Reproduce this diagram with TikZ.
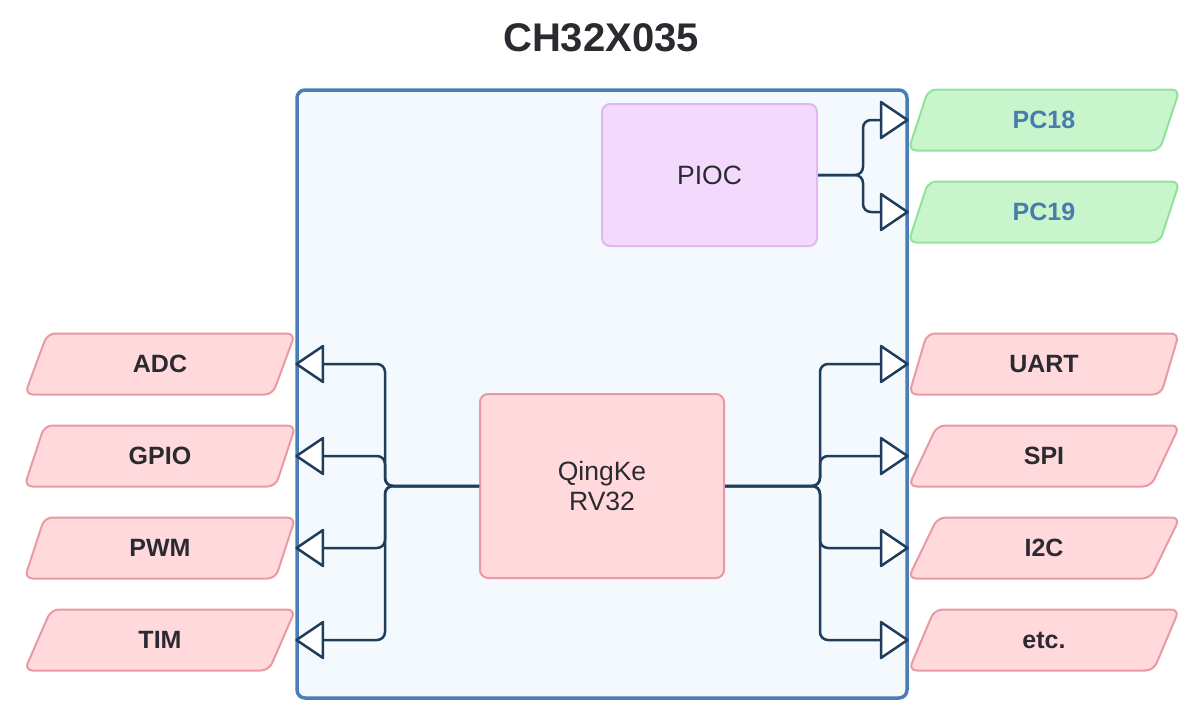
\documentclass[tikz,border=0pt]{standalone}
\usepackage{fontspec}
\setmainfont{Liberation Sans}
\usetikzlibrary{arrows.meta,shapes.geometric}
\definecolor{mainfill}{HTML}{F3F9FD}
\definecolor{mainborder}{HTML}{4A7EB4}
\definecolor{pinkfill}{HTML}{FFD9DC}
\definecolor{pinkborder}{HTML}{E99AA3}
\definecolor{greenfill}{HTML}{C8F5CC}
\definecolor{greenborder}{HTML}{90E39C}
\definecolor{purplefill}{HTML}{F3DAFC}
\definecolor{purpleborder}{HTML}{E3B8F2}
\definecolor{navy}{HTML}{1F3D5C}
\definecolor{pctext}{HTML}{4A7BAE}
\definecolor{txt}{HTML}{2A2A30}
\tikzset{
  mainbox/.style={draw=mainborder, fill=mainfill, line width=3.5pt, rounded corners=8pt,
    minimum width=610pt, minimum height=608pt, inner sep=0pt},
  block/.style={line width=2pt, rounded corners=8pt, inner sep=0pt, text=txt,
    font=\fontsize{26.5pt}{30pt}\selectfont, align=center},
  para/.style={trapezium, trapezium left angle=73, trapezium right angle=107,
    trapezium stretches=true, minimum width=272pt, minimum height=61pt,
    line width=2pt, rounded corners=8pt, inner sep=0pt,
    font=\fontsize{25pt}{30pt}\selectfont\bfseries},
  pinkpara/.style={para, draw=pinkborder, fill=pinkfill, text=txt},
  greenpara/.style={para, draw=greenborder, fill=greenfill, text=pctext},
  bus/.style={draw=navy, line width=2.5pt, rounded corners=8pt,
    -{Triangle[length=30pt,width=40pt,fill=white,round]}},
}
\begin{document}
\begin{tikzpicture}[x=1pt,y=-1pt]
\useasboundingbox (0,0) rectangle (1200,712);
\node[font=\fontsize{40pt}{48pt}\selectfont\bfseries, text=txt] (title) at (601,38) {CH32X035};
\node[mainbox] (main) at (602,394) {};
\node[block, draw=purpleborder, fill=purplefill, minimum width=215pt, minimum height=142pt] (pioc) at (709.5,175) {PIOC};
\node[block, draw=pinkborder, fill=pinkfill, minimum width=244pt, minimum height=184pt] (cpu) at (602,486) {QingKe\\RV32};
% left peripherals
\node[pinkpara] (adc) at (160,364) {ADC};
\node[pinkpara] (gpio) at (160,456) {GPIO};
\node[pinkpara] (pwm) at (160,548) {PWM};
\node[pinkpara] (tim) at (160,640) {TIM};
% right peripherals
\node[greenpara] (pc18) at (1044,120) {PC18};
\node[greenpara] (pc19) at (1044,212) {PC19};
\node[pinkpara] (uart) at (1044,364) {UART};
\node[pinkpara] (spi) at (1044,456) {SPI};
\node[pinkpara] (i2c) at (1044,548) {I2C};
\node[pinkpara] (etc) at (1044,640) {etc.};
% junctions
\coordinate (lj) at (385,486);
\coordinate (rj) at (820,486);
\coordinate (pj) at (863,175);
% left bus
\foreach \n in {adc,gpio,pwm,tim}
  \draw[bus] (cpu.west) -- (lj) |- (main.west |- \n.center);
% right bus
\foreach \n in {uart,spi,i2c,etc}
  \draw[bus] (cpu.east) -- (rj) |- (main.east |- \n.center);
% PIOC outputs
\foreach \n in {pc18,pc19}
  \draw[bus] (pioc.east) -- (pj) |- (main.east |- \n.center);
\end{tikzpicture}
\end{document}
